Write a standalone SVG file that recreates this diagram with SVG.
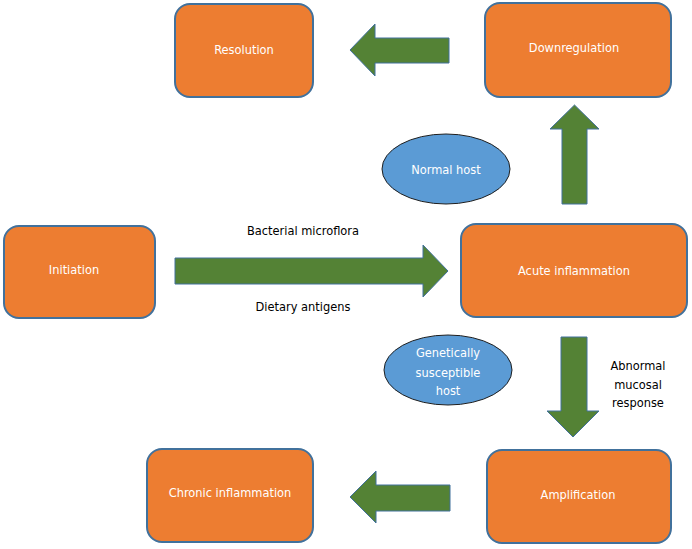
<svg xmlns="http://www.w3.org/2000/svg" width="692" height="549" viewBox="0 0 692 549">
<style>
.box{fill:#ED7D31;stroke:#41719C;stroke-width:2}
.ell{fill:#5B9BD5;stroke:#1F1F1F;stroke-width:1}
.arr{fill:#548235;stroke:#41719C;stroke-width:1}
text{font-family:"DejaVu Sans Condensed","DejaVu Sans",sans-serif;font-size:12.7px;text-anchor:middle}
.w{fill:#FFFFFF}
.k{fill:#000000}
</style>
<rect width="692" height="549" fill="#FFFFFF"/>
<g id="connectors">
<polygon class="arr" points="449,38 375,38 375,24 350,50 375,76 375,63 449,63"/>
<polygon class="arr" points="562,204 562,129 550,129 574.5,105 599,129 587,129 587,204"/>
<polygon class="arr" points="175,258 423,258 423,245 448,271 423,297 423,284 175,284"/>
<polygon class="arr" points="561,337 587,337 587,411 599,411 573,437 547,411 561,411"/>
<polygon class="arr" points="450,485 376,485 376,471 350,497 376,523 376,511 450,511"/>
<text class="k" x="303" y="235">Bacterial microflora</text>
<text class="k" x="303" y="311">Dietary antigens</text>
<text class="k" x="638" y="370">Abnormal</text>
<text class="k" x="638" y="389">mucosal</text>
<text class="k" x="638" y="407">response</text>
</g>
<g id="resolution">
<rect class="box" x="175" y="4" width="138" height="93" rx="15"/>
<text class="w" x="244" y="54">Resolution</text>
</g>
<g id="downregulation">
<rect class="box" x="485" y="3" width="186" height="94" rx="15"/>
<text class="w" x="574" y="52">Downregulation</text>
</g>
<g id="normal-host">
<ellipse class="ell" cx="446" cy="169" rx="64" ry="35"/>
<text class="w" x="446" y="174">Normal host</text>
</g>
<g id="initiation">
<rect class="box" x="4" y="226" width="151" height="92" rx="15"/>
<text class="w" x="74" y="274">Initiation</text>
</g>
<g id="acute-inflammation">
<rect class="box" x="461" y="224" width="226" height="93" rx="15"/>
<text class="w" x="574" y="275">Acute inflammation</text>
</g>
<g id="genetically-susceptible-host">
<ellipse class="ell" cx="448" cy="370" rx="64" ry="35"/>
<text class="w" x="448" y="357">Genetically</text>
<text class="w" x="448" y="377">susceptible</text>
<text class="w" x="448" y="395">host</text>
</g>
<g id="amplification">
<rect class="box" x="487" y="450" width="184" height="93" rx="15"/>
<text class="w" x="578" y="499">Amplification</text>
</g>
<g id="chronic-inflammation">
<rect class="box" x="147" y="449" width="166" height="93" rx="15"/>
<text class="w" x="230" y="497">Chronic inflammation</text>
</g>
</svg>
